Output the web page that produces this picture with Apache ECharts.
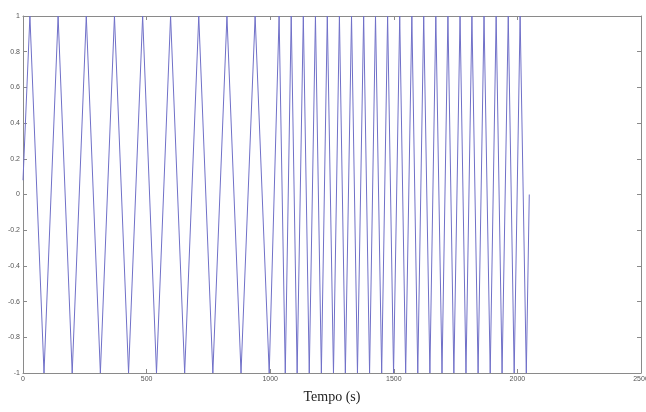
<!DOCTYPE html>
<html>
<head>
<meta charset="utf-8">
<script src="https://cdn.jsdelivr.net/npm/echarts@6/dist/echarts.min.js"></script>
<style>
html,body{margin:0;padding:0;background:#fff;}
#chart{width:646px;height:412px;}
</style>
</head>
<body>
<div id="chart"></div>
<script>
// Time (s) of each turning point
const times = [
  0, 28, 85, 142, 199, 256, 313, 370, 427, 484, 540, 597, 654, 711, 768, 825, 882, 939, 996,
  1036, 1061, 1085, 1109, 1134, 1158, 1183, 1207, 1231, 1256, 1280, 1304, 1329, 1353, 1378,
  1402, 1426, 1451, 1475, 1499, 1524, 1548, 1573, 1597, 1621, 1646, 1670, 1695, 1719, 1743,
  1768, 1792, 1816, 1841, 1865, 1890, 1914, 1938, 1963, 1987, 2011, 2036, 2048
];
// Signal value at each of those times
const values = [
  0.08, 1, -1, 1, -1, 1, -1, 1, -1, 1, -1, 1, -1, 1, -1, 1, -1, 1, -1,
  1, -1, 1, -1, 1, -1, 1, -1, 1, -1, 1, -1, 1, -1, 1,
  -1, 1, -1, 1, -1, 1, -1, 1, -1, 1, -1, 1, -1, 1, -1,
  1, -1, 1, -1, 1, -1, 1, -1, 1, -1, 1, -1, 0
];
const xTicks = [0, 500, 1000, 1500, 2000, 2500];
const yTicks = [-1, -0.8, -0.6, -0.4, -0.2, 0, 0.2, 0.4, 0.6, 0.8, 1];
const xLabel = 'Tempo (s)';

const data = times.map((t, i) => [t, values[i]]);
const chart = echarts.init(document.getElementById('chart'), null, {renderer: 'canvas'});
const frameColor = '#8a8a8a';
const tickLabel = {fontSize: 7, color: '#555', fontFamily: 'Liberation Sans, Arial, sans-serif'};
const xMin = xTicks[0], xMax = xTicks[xTicks.length - 1], xInt = xTicks[1] - xTicks[0];
const yMin = yTicks[0], yMax = yTicks[yTicks.length - 1];
const fmtY = v => String(Math.round(v * 10) / 10);
const fmtX = v => String(Math.round(v));
const line = {show: true, onZero: false, lineStyle: {color: frameColor, width: 1}};
const tick = {show: true, inside: true, length: 4, lineStyle: {color: frameColor}};

chart.setOption({
  animation: false,
  backgroundColor: '#fff',
  grid: {left: 23, right: 5, top: 16, bottom: 39, containLabel: false, outerBoundsMode: 'none'},
  xAxis: [
    {type: 'value', min: xMin, max: xMax, interval: xInt, position: 'bottom',
     name: xLabel, nameLocation: 'middle', nameGap: 17,
     nameTextStyle: {fontFamily: 'Liberation Serif, Times New Roman, serif', fontSize: 14, color: '#222'},
     axisLine: line, axisTick: tick,
     axisLabel: Object.assign({margin: 3, formatter: fmtX}, tickLabel),
     splitLine: {show: false}},
    {type: 'value', min: xMin, max: xMax, interval: xInt, position: 'top',
     axisLine: line, axisTick: tick,
     axisLabel: {show: false}, splitLine: {show: false}}
  ],
  yAxis: [
    {type: 'value', min: yMin, max: yMax, interval: 0.2, position: 'left',
     axisLine: line, axisTick: tick,
     axisLabel: Object.assign({margin: 3, formatter: fmtY}, tickLabel),
     splitLine: {show: false}},
    {type: 'value', min: yMin, max: yMax, interval: 0.2, position: 'right',
     axisLine: line, axisTick: tick,
     axisLabel: {show: false}, splitLine: {show: false}}
  ],
  series: [{
    type: 'line', xAxisIndex: 0, yAxisIndex: 0, data: data,
    showSymbol: false, symbol: 'none',
    lineStyle: {color: '#7070c8', width: 1},
    z: 1
  }]
});
</script>
</body>
</html>
